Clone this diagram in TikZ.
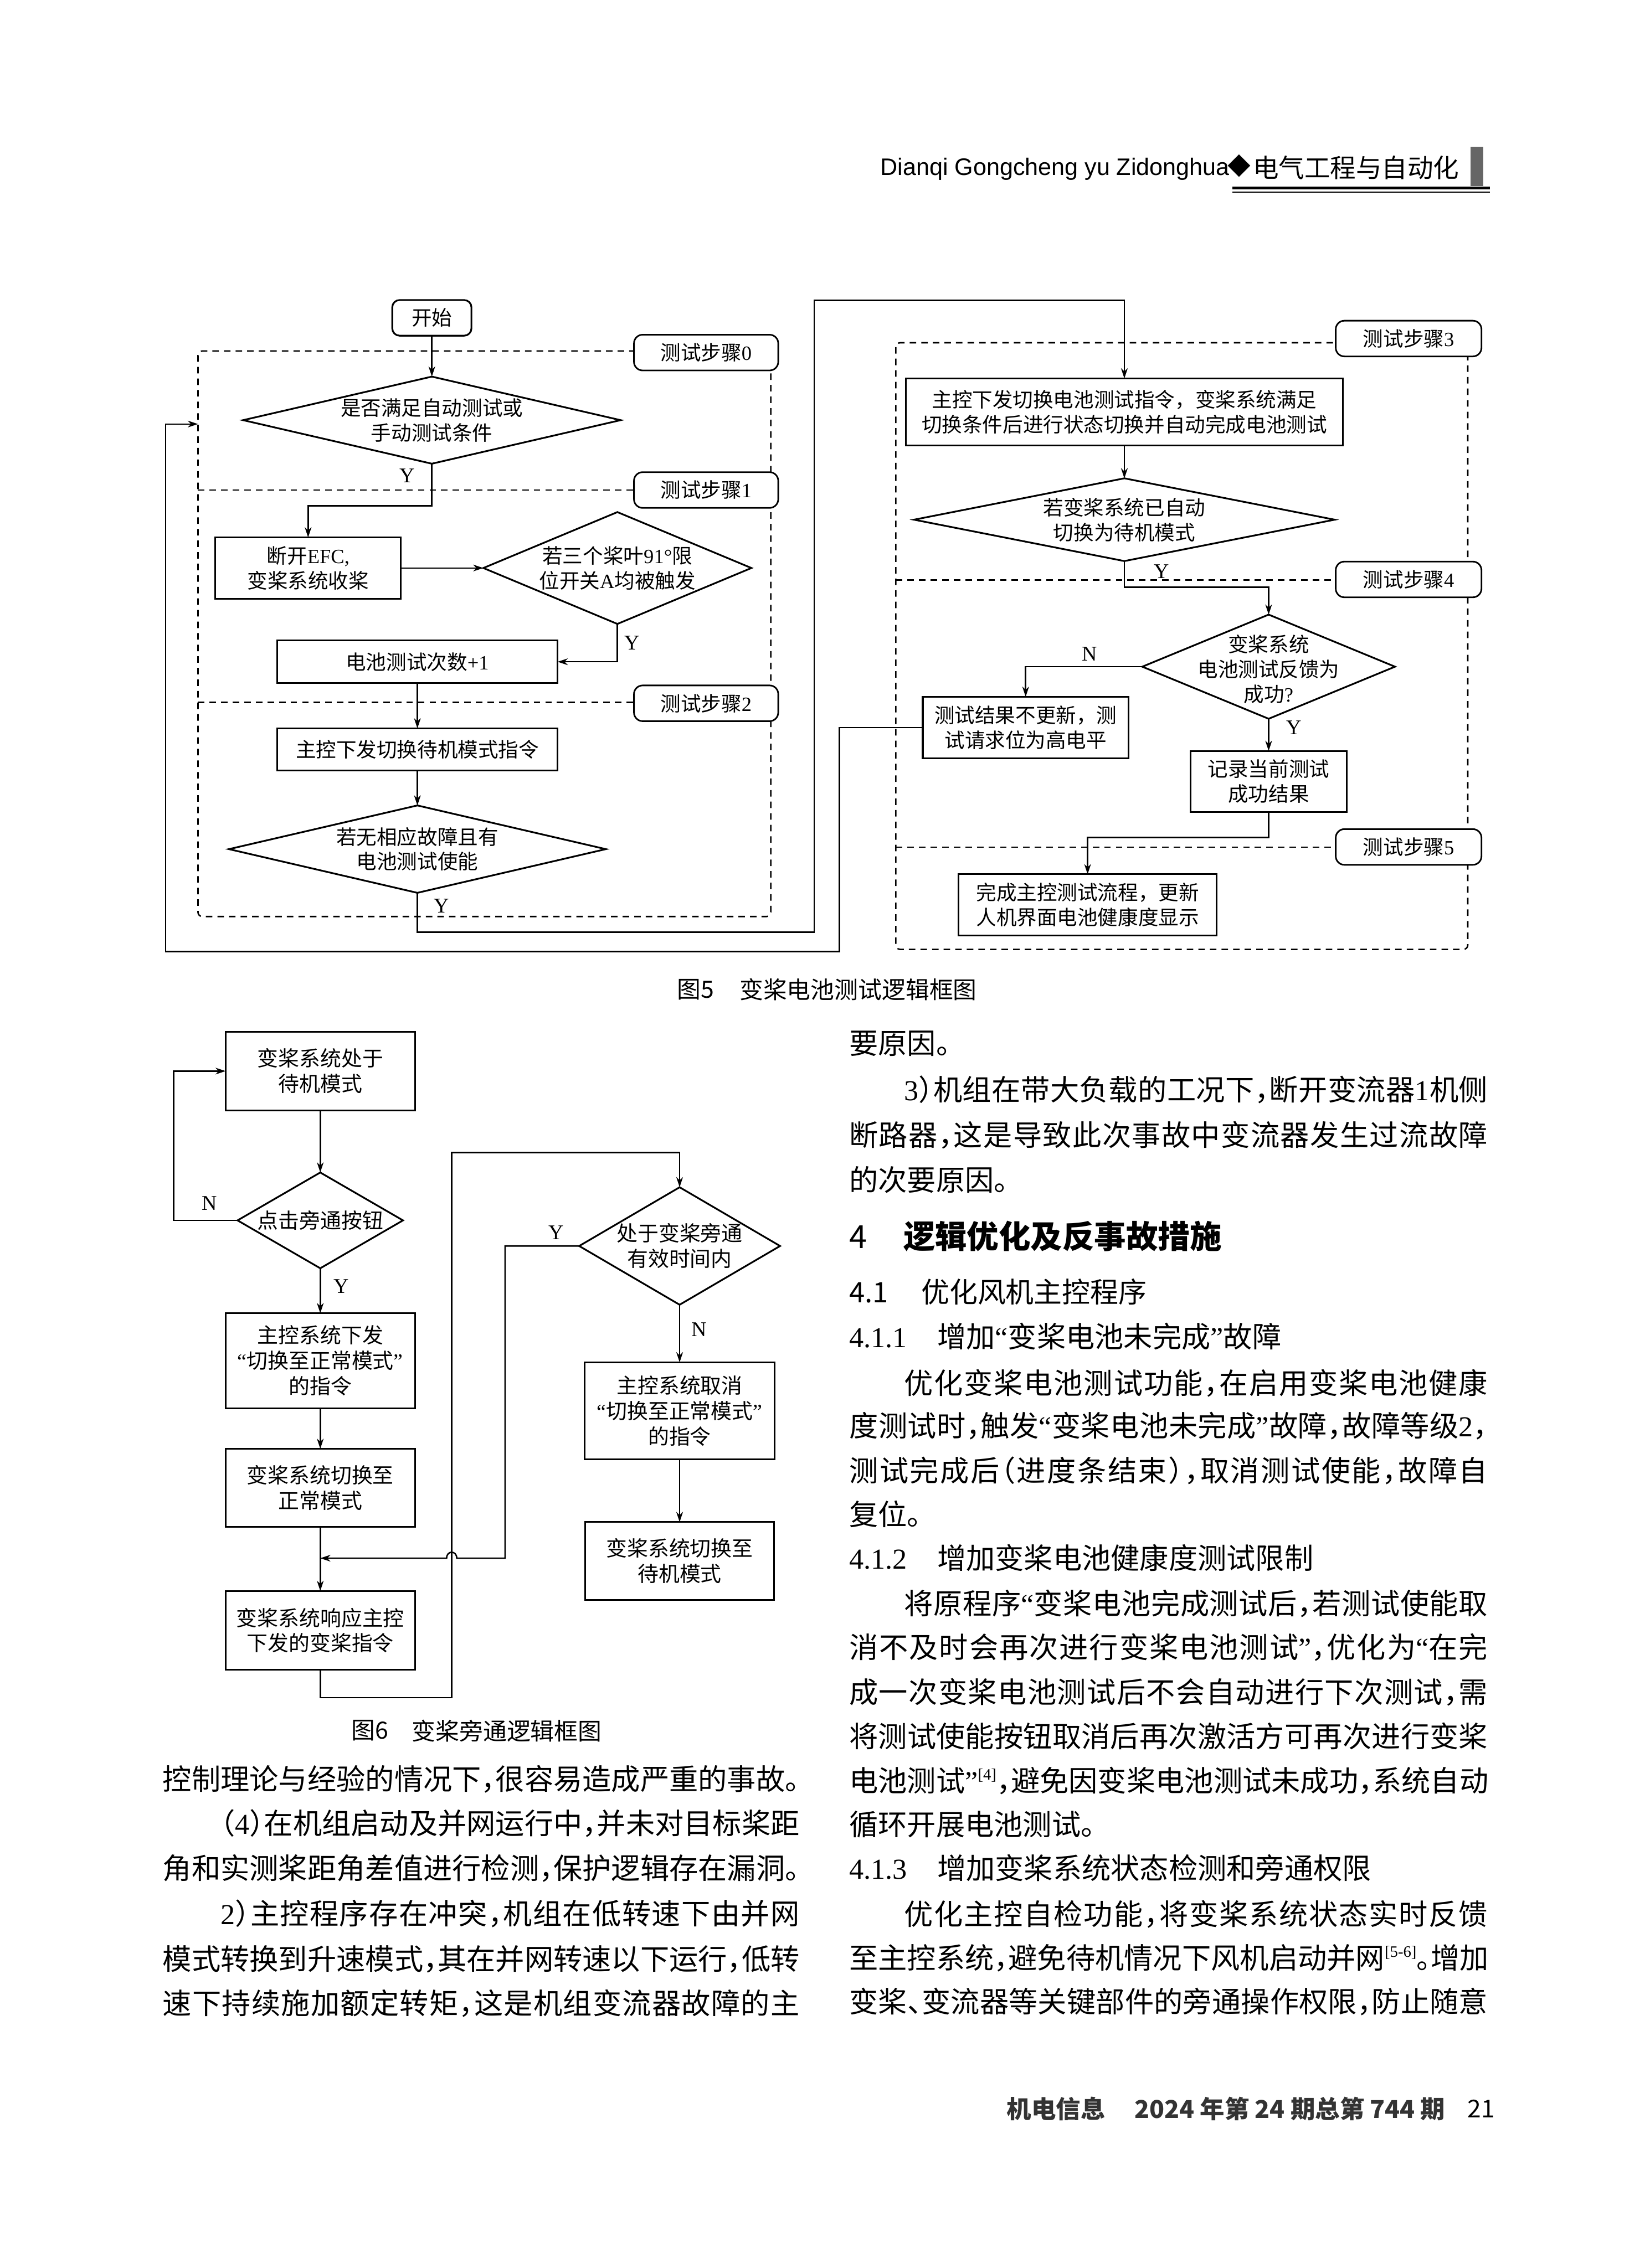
\documentclass[tikz,border=0pt]{standalone}
\usepackage{fontspec}
\setmainfont{Noto Sans CJK SC}
\newfontfamily\bodyf[RawFeature=+halt]{Noto Sans CJK SC}
\newfontfamily\lat{Liberation Serif}
\newfontfamily\hel{Liberation Sans}
\usetikzlibrary{shapes.geometric,arrows.meta}
\XeTeXinterchartokenstate=1
\newXeTeXintercharclass\hzc
\newcount\hzn
\hzn="3000 \loop\XeTeXcharclass\hzn=\hzc \ifnum\hzn<"303F \advance\hzn by 1 \repeat
\hzn="4E00 \loop\XeTeXcharclass\hzn=\hzc \ifnum\hzn<"9FFF \advance\hzn by 1 \repeat
\hzn="FF00 \loop\XeTeXcharclass\hzn=\hzc \ifnum\hzn<"FFEF \advance\hzn by 1 \repeat
\XeTeXinterchartoks\hzc\hzc={\hskip0pt plus 3pt\relax}
\XeTeXinterchartoks 0 \hzc={\hskip0pt plus 3pt\relax}
\XeTeXinterchartoks\hzc 0 ={\hskip0pt plus 3pt\relax}
\newcommand\jl[2]{\makebox[#1][s]{#2}}
\newcommand\supr[1]{\raisebox{8pt}{\lat\fontsize{11}{11}\selectfont #1}}
\begin{document}
\begin{tikzpicture}[x=1pt,y=-1pt,
  every node/.style={inner sep=0pt,outer sep=0pt},
  fa/.style={font=\fontsize{14}{17.2}\selectfont},
  fb/.style={font=\fontsize{14.5}{17.6}\selectfont},
  bx/.style={draw,line width=1.2pt,rectangle,align=center},
  dm/.style={draw,line width=1.2pt,diamond},
  lab/.style={draw,line width=1.1pt,rounded corners=6pt,fill=white,minimum height=24.7pt,fa},
  dsh/.style={dash pattern=on 4.5pt off 3.5pt,line width=1pt},
  arr/.style={line width=1pt,-{Stealth[length=7pt,width=4.6pt,inset=2.2pt]}},
  yn/.style={font=\lat\fontsize{14.5}{14.5}\selectfont},
  bt/.style={anchor=base west,font=\bodyf\fontsize{20}{20}\selectfont},
  capt/.style={anchor=west,font=\fontsize{16.4}{16.4}\selectfont}]
\fill[white] (0,0) rectangle (1140,1567.6);
\path[use as bounding box] (0,0) rectangle (1140,1567.6);

% ---------- header ----------
\node[anchor=base west,font=\hel\fontsize{16.5}{16.5}\selectfont] (hd1) at (608.3,121) {Dianqi Gongcheng yu Zidonghua};
\node[font=\fontsize{16}{16}\selectfont] (hd2) at (856.4,114.7) {◆};
\node[anchor=west,font=\fontsize{17.8}{17.8}\selectfont] (hd3) at (865.7,116) {电气工程与自动化};
\fill[black!60] (1016,101.3) rectangle (1025,128.5);
\fill (851.4,129) rectangle (1029.5,131);
\fill (851.4,132.3) rectangle (1029.5,133.1);

% ---------- Fig 5 dashed frames ----------
\draw[dsh,rounded corners=3pt] (136.8,242.6) rectangle (532.6,633.5);
\draw[dsh] (136.8,338.7) -- (440,338.7);
\draw[dsh] (136.8,485.5) -- (440,485.5);
\draw[dsh,rounded corners=3pt] (619,236.9) rectangle (1014.2,656.2);
\draw[dsh] (619,400.8) -- (925,400.8);
\draw[dsh] (619,585.6) -- (925,585.6);

% ---------- Fig 5 nodes ----------
\node[lab,minimum width=99.7pt] (l0) at (487.9,243.7) {测试步骤{\lat 0}};
\node[lab,minimum width=99.7pt] (l1) at (487.9,338.7) {测试步骤{\lat 1}};
\node[lab,minimum width=99.7pt] (l2) at (487.9,486.1) {测试步骤{\lat 2}};
\node[lab,minimum width=100.7pt] (l3) at (973.3,234) {测试步骤{\lat 3}};
\node[lab,minimum width=100.7pt] (l4) at (973.3,400.5) {测试步骤{\lat 4}};
\node[lab,minimum width=100.7pt] (l5) at (973.3,585.4) {测试步骤{\lat 5}};

\node[bx,fa,rounded corners=5pt,minimum width=54.7pt,minimum height=24.6pt] (s0) at (298.4,219.7) {开始};
\node[dm,minimum width=260.8pt,minimum height=60.2pt] (d1) at (298.4,290.4) {};
\node[fa,align=center] (d1t) at (d1.center) {是否满足自动测试或\\手动测试条件};
\node[bx,fa,minimum width=128.3pt,minimum height=42.3pt] (b2) at (212.9,392.6) {断开{\lat EFC,}\\变桨系统收桨};
\node[dm,minimum width=185.2pt,minimum height=77.3pt] (d2) at (426.6,392.6) {};
\node[fa,align=center] (d2t) at (d2.center) {若三个桨叶{\lat 91°}限\\位开关{\lat A}均被触发};
\node[bx,fa,minimum width=193.8pt,minimum height=29.3pt] (b3) at (288.4,457.4) {电池测试次数{\lat +1}};
\node[bx,fa,minimum width=193.8pt,minimum height=29.2pt] (b4) at (288.4,518) {主控下发切换待机模式指令};
\node[dm,minimum width=260.4pt,minimum height=60.4pt] (d3) at (288.4,586.9) {};
\node[fa,align=center] (d3t) at (d3.center) {若无相应故障且有\\电池测试使能};

\node[bx,fa,minimum width=301.8pt,minimum height=46.3pt] (b5) at (776.9,284.7) {主控下发切换电池测试指令，变桨系统满足\\切换条件后进行状态切换并自动完成电池测试};
\node[dm,minimum width=290.6pt,minimum height=57.2pt] (d4) at (776.9,359.2) {};
\node[fa,align=center] (d4t) at (d4.center) {若变桨系统已自动\\切换为待机模式};
\node[dm,minimum width=174.6pt,minimum height=72pt] (d5) at (876.6,460.8) {};
\node[fa,align=center] (d5t) at (876.6,462.5) {变桨系统\\电池测试反馈为\\成功{\lat ?}};
\node[bx,fa,minimum width=142.2pt,minimum height=42.6pt] (b6) at (708.7,502.9) {测试结果不更新，测\\试请求位为高电平};
\node[bx,fa,minimum width=107.8pt,minimum height=42.4pt] (b7) at (876.6,540.2) {记录当前测试\\成功结果};
\node[bx,fa,minimum width=178.3pt,minimum height=42.5pt] (b8) at (751.5,625.5) {完成主控测试流程，更新\\人机界面电池健康度显示};

% ---------- Fig 5 connectors ----------
\coordinate (k1) at (298.4,349.7);
\coordinate (k2) at (288.4,644.2);
\coordinate (k3) at (562.6,644.2);
\coordinate (k4) at (562.6,207.6);
\coordinate (k5) at (776.9,405.9);
\coordinate (k6) at (876.6,578.8);
\coordinate (k7) at (580,502.9);
\coordinate (k8) at (580,657.8);
\coordinate (k9) at (114.5,657.8);
\coordinate (k10) at (114.5,293.1);
\coordinate (kin) at (136.8,293.1);
\draw[arr] (s0.south) -- (d1.north);
\draw[arr] (d1.south) -- (k1) -| (b2.north);
\draw[arr] (b2.east) -- (d2.west);
\draw[arr] (d2.south) |- (b3.east);
\draw[arr] (b3.south) -- (b4.north);
\draw[arr] (b4.south) -- (d3.north);
\draw[arr] (d3.south) -- (k2) -- (k3) -- (k4) -| (b5.north);
\draw[arr] (b5.south) -- (d4.north);
\draw[arr] (d4.south) -- (k5) -| (d5.north);
\draw[arr] (d5.west) -| (b6.north);
\draw[arr] (d5.south) -- (b7.north);
\draw[arr] (b7.south) -- (k6) -| (b8.north);
\draw[arr] (b6.west) -- (k7) -- (k8) -- (k9) -- (k10) -- (kin);

\node[yn] (y1) at (281.3,328.8) {Y};
\node[yn] (y2) at (436.6,444.2) {Y};
\node[yn] (y3) at (304.9,626.1) {Y};
\node[yn] (y4) at (802.8,394.9) {Y};
\node[yn] (n1) at (753,452) {N};
\node[yn] (y5) at (894,503) {Y};

\node[capt] (c5a) at (468,684) {图5};
\node[capt,anchor=east] (c5b) at (675,684) {变桨电池测试逻辑框图};

% ---------- Fig 6 ----------
\node[bx,fb,minimum width=130.8pt,minimum height=54.2pt] (A) at (221.3,740.3) {变桨系统处于\\待机模式};
\node[dm,minimum width=114.3pt,minimum height=66.2pt] (dA) at (221.3,843.5) {};
\node[fb] (dAt) at (dA.center) {点击旁通按钮};
\node[bx,fb,minimum width=130.8pt,minimum height=65.7pt] (B) at (221.3,940.5) {主控系统下发\\{\lat “}切换至正常模式{\lat ”}\\的指令};
\node[dm,minimum width=138.8pt,minimum height=81.2pt] (dB) at (469.6,861.2) {};
\node[fb,align=center] (dBt) at (dB.center) {处于变桨旁通\\有效时间内};
\node[bx,fb,minimum width=131pt,minimum height=67pt] (C) at (469.6,975.1) {主控系统取消\\{\lat “}切换至正常模式{\lat ”}\\的指令};
\node[bx,fb,minimum width=130.7pt,minimum height=54pt] (D) at (469.6,1079) {变桨系统切换至\\待机模式};
\node[bx,fb,minimum width=130.8pt,minimum height=54.1pt] (E) at (221.3,1028.4) {变桨系统切换至\\正常模式};
\node[bx,fb,minimum width=130.8pt,minimum height=54.6pt] (F) at (221.3,1126.9) {变桨系统响应主控\\下发的变桨指令};

\coordinate (m1) at (120,843.5);
\coordinate (m2) at (221.3,1173.4);
\coordinate (m3) at (312.1,1173.4);
\coordinate (m4) at (312.1,796.5);
\coordinate (m5) at (349,861.2);
\coordinate (m6) at (349,1077);
\coordinate (h1) at (315.6,1077);
\coordinate (h2) at (308.6,1077);
\coordinate (m7) at (221.3,1077);
\draw[arr] (A.south) -- (dA.north);
\draw[arr] (dA.west) -- (m1) |- (A.west);
\draw[arr] (dA.south) -- (B.north);
\draw[arr] (B.south) -- (E.north);
\draw[arr] (E.south) -- (F.north);
\draw[arr] (F.south) -- (m2) -- (m3) -- (m4) -| (dB.north);
\draw[arr] (dB.west) -- (m5) -- (m6) -- (h1) .. controls (315.6,1071.5) and (308.6,1071.5) .. (h2) -- (m7);
\draw[arr] (dB.south) -- (C.north);
\draw[arr] (C.south) -- (D.north);

\node[yn] (n2) at (144.8,831.7) {N};
\node[yn] (y6) at (235.8,889.2) {Y};
\node[yn] (y7) at (384.2,852.1) {Y};
\node[yn] (n3) at (483,918.8) {N};

\node[capt] (c6a) at (242.7,1196.2) {图6};
\node[capt] (c6b) at (284.6,1196.2) {变桨旁通逻辑框图};

% ---------- left column text ----------
\node[bt] (L1) at (112.5,1237.0) {\jl{440pt}{控制理论与经验的情况下，很容易造成严重的事故。}};
\node[bt] (L2) at (152.5,1267.8) {\jl{400pt}{（{\lat 4}）在机组启动及并网运行中，并未对目标桨距}};
\node[bt] (L3) at (112.5,1298.6) {\jl{440pt}{角和实测桨距角差值进行检测，保护逻辑存在漏洞。}};
\node[bt] (L4) at (152.5,1330.0) {\jl{400pt}{{\lat 2}）主控程序存在冲突，机组在低转速下由并网}};
\node[bt] (L5) at (112.5,1361.4) {\jl{440pt}{模式转换到升速模式，其在并网转速以下运行，低转}};
\node[bt] (L6) at (112.5,1392.2) {\jl{440pt}{速下持续施加额定转矩，这是机组变流器故障的主}};

% ---------- right column text ----------
\node[bt] (R1) at (586.8,728.6) {要原因。};
\node[bt] (R2) at (624.8,760.5) {\jl{403.2pt}{{\lat 3}）机组在带大负载的工况下，断开变流器{\lat 1}机侧}};
\node[bt] (R3) at (586.8,792.1) {\jl{441.2pt}{断路器，这是导致此次事故中变流器发生过流故障}};
\node[bt] (R4) at (586.8,823.2) {的次要原因。};
\node[anchor=base west,font=\fontsize{22}{22}\selectfont] (H4n) at (586.8,862.8) {4};
\node[anchor=base west,font=\bfseries\fontsize{22}{22}\selectfont] (H4) at (624.2,862.8) {逻辑优化及反事故措施};
\node[anchor=base west,font=\fontsize{19.5}{19.5}\selectfont] (H41n) at (586.8,900.5) {4.1};
\node[anchor=base west,font=\fontsize{19.5}{19.5}\selectfont] (H41) at (636.5,900.5) {优化风机主控程序};
\node[bt,font=\lat\fontsize{20}{20}\selectfont] (H411n) at (586.8,931.5) {4.1.1};
\node[bt] (H411) at (647.6,931.5) {增加{\lat “}变桨电池未完成{\lat ”}故障};
\node[bt] (R8) at (624.8,963.4) {\jl{403.2pt}{优化变桨电池测试功能，在启用变桨电池健康}};
\node[bt] (R9) at (586.8,993.1) {\jl{441.2pt}{度测试时，触发{\lat “}变桨电池未完成{\lat ”}故障，故障等级{\lat 2}，}};
\node[bt] (R10) at (586.8,1023.8) {\jl{441.2pt}{测试完成后（进度条结束），取消测试使能，故障自}};
\node[bt] (R11) at (586.8,1054.1) {复位。};
\node[bt,font=\lat\fontsize{20}{20}\selectfont] (H412n) at (586.8,1084.4) {4.1.2};
\node[bt] (H412) at (647.6,1084.4) {增加变桨电池健康度测试限制};
\node[bt] (R13) at (624.8,1115.9) {\jl{403.2pt}{将原程序{\lat “}变桨电池完成测试后，若测试使能取}};
\node[bt] (R14) at (586.8,1146.2) {\jl{441.2pt}{消不及时会再次进行变桨电池测试{\lat ”}，优化为{\lat “}在完}};
\node[bt] (R15) at (586.8,1177.0) {\jl{441.2pt}{成一次变桨电池测试后不会自动进行下次测试，需}};
\node[bt] (R16) at (586.8,1207.5) {\jl{441.2pt}{将测试使能按钮取消后再次激活方可再次进行变桨}};
\node[bt] (R17) at (586.8,1238.3) {\jl{441.2pt}{电池测试{\lat ”}\supr{[4]}，避免因变桨电池测试未成功，系统自动}};
\node[bt] (R18) at (586.8,1268.6) {循环开展电池测试。};
\node[bt,font=\lat\fontsize{20}{20}\selectfont] (H413n) at (586.8,1298.8) {4.1.3};
\node[bt] (H413) at (647.6,1298.8) {增加变桨系统状态检测和旁通权限};
\node[bt] (R20) at (624.8,1330.3) {\jl{403.2pt}{优化主控自检功能，将变桨系统状态实时反馈}};
\node[bt] (R21) at (586.8,1360.6) {\jl{441.2pt}{至主控系统，避免待机情况下风机启动并网\supr{[5-6]}。增加}};
\node[bt] (R22) at (586.8,1390.9) {\jl{441.2pt}{变桨、变流器等关键部件的旁通操作权限，防止随意}};

% ---------- footer ----------
\node[anchor=west,font=\bfseries\fontsize{17}{17}\selectfont,text=black!80] (f1) at (695.7,1457.5) {机电信息};
\node[anchor=west,font=\bfseries\fontsize{17}{17}\selectfont,text=black!80] (f2) at (784,1457.5) {2024 年第 24 期总第 744 期};
\node[anchor=west,font=\fontsize{17}{17}\selectfont] (f3) at (1014,1457.5) {21};
\end{tikzpicture}
\end{document}
